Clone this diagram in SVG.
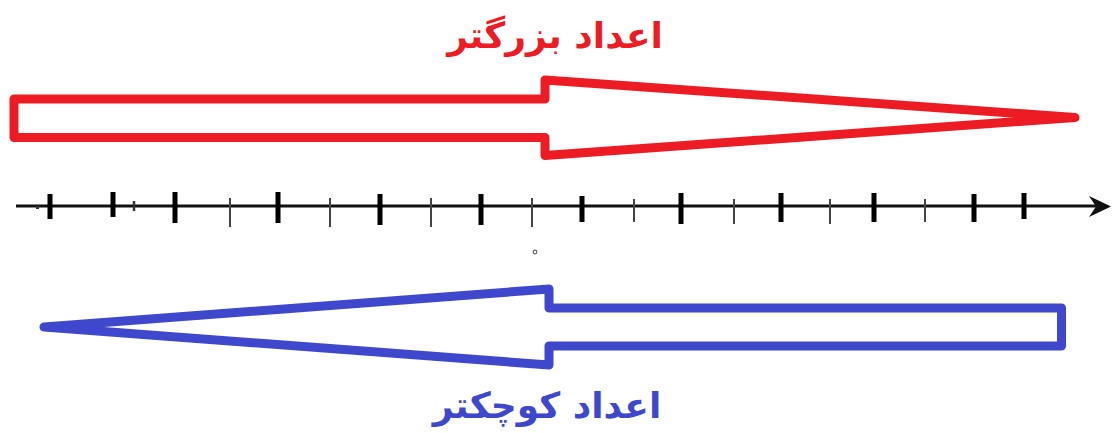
<svg xmlns="http://www.w3.org/2000/svg" width="1113" height="433" viewBox="0 0 1113 433">
  <style>
    .arrow { fill: none; stroke-width: 9; stroke-linejoin: round; }
    .red { stroke: #ED1C24; }
    .blue { stroke: #3F48CC; }
    .label { font-family: "DejaVu Sans", "Noto Sans", sans-serif; font-weight: bold; font-size: 36px; text-anchor: middle; direction: rtl; }
    .tick { stroke: #000; stroke-width: 5; }
    .thin { stroke: #444; stroke-width: 2; }
  </style>
  <rect width="1113" height="433" fill="#fff"/>
  <g id="label-bigger">
    <text class="label" x="555" y="48" fill="#ED1C24">اعداد بزرگتر</text>
  </g>
  <g id="arrow-bigger">
    <path class="arrow red" d="M14,99 L545,99 L545,80 L1075,117.5 L545,155.5 L545,137.5 L14,137.5 Z"/>
  </g>
  <g id="number-line">
    <line x1="16" y1="206" x2="1098" y2="206" stroke="#111" stroke-width="3"/>
    <polygon points="1089,196 1111,206.5 1089,217 1096,206.5" fill="#111"/>
    <rect x="36" y="206" width="3" height="3" fill="#333"/>
    <line x1="134" y1="201" x2="134" y2="211" stroke="#333" stroke-width="2.5"/>
    <g class="tick">
      <line x1="50" y1="194" x2="50" y2="219"/>
      <line x1="113" y1="192" x2="113" y2="217"/>
      <line x1="175" y1="192" x2="175" y2="223"/>
      <line x1="278" y1="192" x2="278" y2="223"/>
      <line x1="380" y1="194" x2="380" y2="225"/>
      <line x1="481" y1="194" x2="481" y2="225"/>
      <line x1="582" y1="196" x2="582" y2="222"/>
      <line x1="681" y1="193" x2="681" y2="224"/>
      <line x1="781" y1="193" x2="781" y2="222"/>
      <line x1="874" y1="193" x2="874" y2="222"/>
      <line x1="974" y1="194" x2="974" y2="222"/>
      <line x1="1024" y1="193" x2="1024" y2="219"/>
    </g>
    <g class="thin">
      <line x1="230" y1="198" x2="230" y2="227"/>
      <line x1="330" y1="198" x2="330" y2="227"/>
      <line x1="431" y1="198" x2="431" y2="227"/>
      <line x1="532" y1="198" x2="532" y2="227"/>
      <line x1="634" y1="199" x2="634" y2="222"/>
      <line x1="734" y1="199" x2="734" y2="224"/>
      <line x1="830" y1="199" x2="830" y2="224"/>
      <line x1="925" y1="199" x2="925" y2="222"/>
    </g>
    <circle cx="535" cy="252" r="1.8" fill="none" stroke="#666" stroke-width="1.2"/>
  </g>
  <g id="arrow-smaller">
    <path class="arrow blue" d="M1061.5,308 L549,308 L549,289 L44,327 L549,365 L549,346 L1061.5,346 Z"/>
  </g>
  <g id="label-smaller">
    <text class="label" x="547" y="418" fill="#3F48CC">اعداد کوچکتر</text>
  </g>
</svg>
